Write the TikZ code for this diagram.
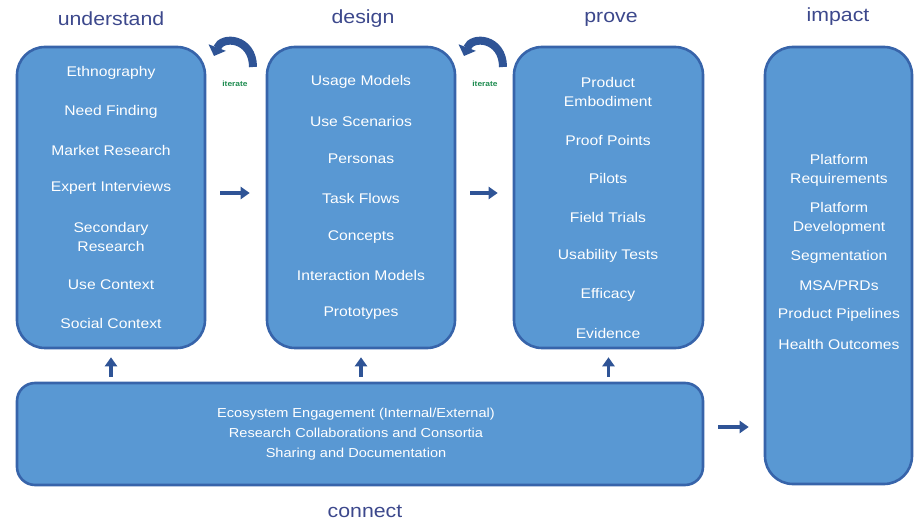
\documentclass[tikz,border=0pt]{standalone}
\usepackage{fontspec}
\setmainfont{Liberation Sans}[FakeStretch=1.12]
\usetikzlibrary{arrows.meta}
\definecolor{boxfill}{RGB}{89,152,211}
\definecolor{boxline}{RGB}{55,100,170}
\definecolor{arrcol}{RGB}{47,84,150}
\definecolor{titlecol}{RGB}{60,72,140}
\definecolor{itercol}{RGB}{30,140,80}
\tikzset{
  phase/.style={draw=boxline, fill=boxfill, line width=2.6pt, rounded corners=28pt, inner sep=0pt},
  connectbox/.style={draw=boxline, fill=boxfill, line width=2.6pt, rounded corners=18pt, inner sep=0pt},
  item/.style={text=white, font=\fontsize{14}{19}\selectfont, align=center, inner sep=0pt},
  title/.style={text=titlecol, font=\fontsize{19}{22}\selectfont, inner sep=0pt},
  itlabel/.style={text=itercol, font=\fontsize{7.5}{9}\selectfont\bfseries, inner sep=0pt},
  arr/.style={draw=arrcol, line width=3.8pt, -{Triangle[length=9pt,width=12pt]}},
  iterarrow/.style={draw=arrcol, line width=8pt, -{Triangle[length=9pt,width=18pt]}}
}
\begin{document}
\begin{tikzpicture}[x=1pt,y=-1pt]
\useasboundingbox (0,0) rectangle (914,521);
% boxes
\node[phase, minimum width=188pt, minimum height=301pt] (u) at (111,197.5) {};
\node[phase, minimum width=188pt, minimum height=301pt] (d) at (361,197.5) {};
\node[phase, minimum width=189pt, minimum height=301pt] (p) at (608.5,197.5) {};
\node[phase, minimum width=147pt, minimum height=437pt] (imp) at (838.5,265.5) {};
\node[connectbox, minimum width=686pt, minimum height=102pt] (c) at (360,434) {};
% titles
\node[title] (tu) at (111,19) {understand};
\node[title] (td) at (363,19) {design};
\node[title] (tp) at (611,19) {prove};
\node[title] (ti) at (838,17) {impact};
\node[title] (tc) at (365,511) {connect};
% understand items
\node[item] (u1) at (111,73) {Ethnography};
\node[item] (u2) at (111,112) {Need Finding};
\node[item] (u3) at (111,150) {Market Research};
\node[item] (u4) at (111,188) {Expert Interviews};
\node[item] (u5) at (111,237) {Secondary\\Research};
\node[item] (u6) at (111,285) {Use Context};
\node[item] (u7) at (111,323) {Social Context};
% design items
\node[item] (d1) at (361,82) {Usage Models};
\node[item] (d2) at (361,121) {Use Scenarios};
\node[item] (d3) at (361,159) {Personas};
\node[item] (d4) at (361,198) {Task Flows};
\node[item] (d5) at (361,237) {Concepts};
\node[item] (d6) at (361,275) {Interaction Models};
\node[item] (d7) at (361,313) {Prototypes};
% prove items
\node[item] (p1) at (608,92) {Product\\Embodiment};
\node[item] (p2) at (608,140) {Proof Points};
\node[item] (p3) at (608,178) {Pilots};
\node[item] (p4) at (608,217) {Field Trials};
\node[item] (p5) at (608,256) {Usability Tests};
\node[item] (p6) at (608,295) {Efficacy};
\node[item] (p7) at (608,333) {Evidence};
% impact items
\node[item] (i1) at (839,170) {Platform\\Requirements};
\node[item] (i2) at (839,218) {Platform\\Development};
\node[item] (i3) at (839,257) {Segmentation};
\node[item] (i4) at (839,285) {MSA/PRDs};
\node[item] (i5) at (839,315) {Product Pipelines};
\node[item] (i6) at (839,344) {Health Outcomes};
% connect items
\node[item, font=\fontsize{13}{20}\selectfont] (c1) at (356,434) {Ecosystem Engagement (Internal/External)\\Research Collaborations and Consortia\\Sharing and Documentation};
% horizontal arrows
\draw[arr, shorten <=14pt, shorten >=16pt] ([yshift=4.5pt]u.east) -- ([yshift=4.5pt]d.west);
\draw[arr, shorten <=14pt, shorten >=15pt] ([yshift=4.5pt]d.east) -- ([yshift=4.5pt]p.west);
\draw[arr, shorten <=14pt, shorten >=15pt] ([yshift=7pt]c.east) -- ([yshift=7pt]imp.west |- c.east);
% up arrows
\draw[arr, shorten <=5pt, shorten >=8pt] (u.south |- c.north) -- (u.south);
\draw[arr, shorten <=5pt, shorten >=8pt] (d.south |- c.north) -- (d.south);
\draw[arr, shorten <=5pt, shorten >=8pt] (p.south |- c.north) -- (p.south);
% iterate arrows
\coordinate (it1s) at (253,67);
\coordinate (it1e) at (214,56);
\draw[iterarrow] (it1s) .. controls (253,38) and (222,35) .. (it1e);
\node[itlabel] (it1) at (235,84) {iterate};
\coordinate (it2s) at (503,67);
\coordinate (it2e) at (464,56);
\draw[iterarrow] (it2s) .. controls (503,38) and (472,35) .. (it2e);
\node[itlabel] (it2) at (485,84) {iterate};
\end{tikzpicture}
\end{document}
